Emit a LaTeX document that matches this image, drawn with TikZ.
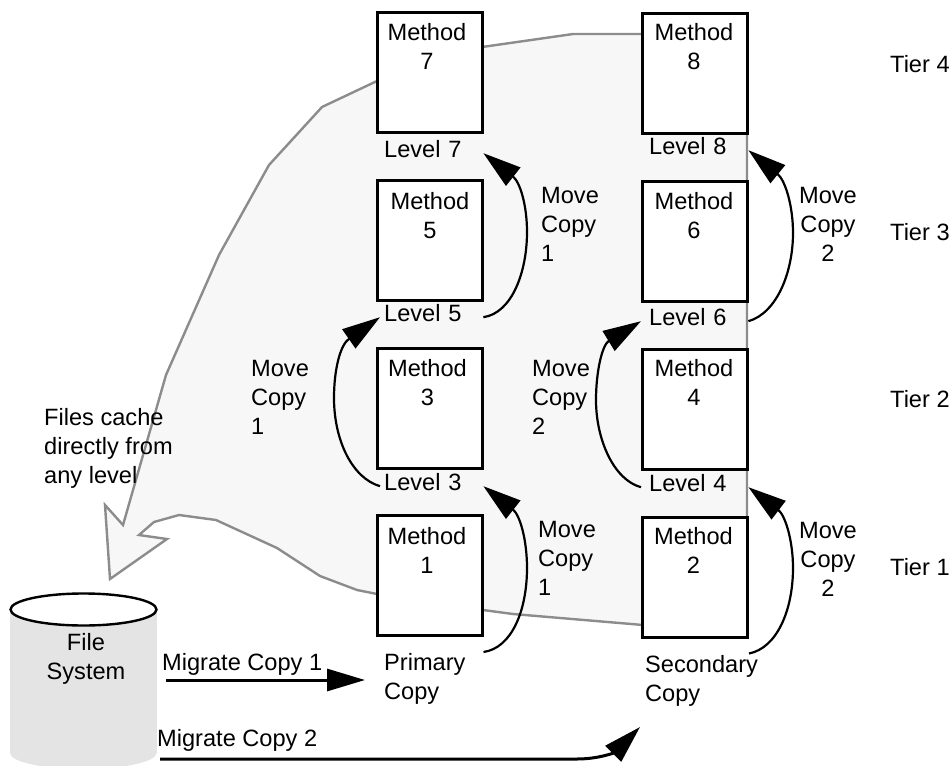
\documentclass[tikz,border=0pt]{standalone}
\usepackage{fontspec}
\setmainfont{Liberation Sans}
\usetikzlibrary{arrows.meta}
\definecolor{regionfill}{HTML}{F7F7F7}
\definecolor{regionline}{HTML}{8C8C8C}
\definecolor{filesysfill}{HTML}{E4E4E4}
\tikzset{
  methodbox/.style={draw,line width=3pt,fill=white,minimum width=105pt,minimum height=120pt,inner sep=0pt},
  boxtext/.style={anchor=north,align=center,inner sep=0pt},
  plaintext/.style={anchor=north west,align=left,inner sep=0pt},
  centertext/.style={anchor=north,align=center,inner sep=0pt},
  level/.style={anchor=north west,align=left,inner ysep=0pt,inner xsep=4pt,text width=95pt,text height=17pt,text depth=9pt},
  levelb/.style={level,inner xsep=8pt,text width=91pt},
  movearrow/.style={line width=2.2pt,-{Triangle[length=38pt,width=23pt]}},
  migratearrow/.style={line width=3pt,-{Triangle[length=38pt,width=22pt]}}
}
\begin{document}
\begin{tikzpicture}[x=1pt,y=-1pt,every node/.style={font=\fontsize{23.6}{29}\selectfont}]
      \useasboundingbox (0,0) rectangle (951,766);
      \draw[line width=2.4pt,draw=regionline,fill=regionfill]
        (747,34) -- (573,34) -- (482,47) -- (377,81) -- (322,107) -- (269,165)
        -- (219,255) -- (166,375) -- (123,525) -- (105,505) -- (110,579)
        -- (167,539) -- (139,535) -- (154,522) -- (179,515) -- (216,520)
        -- (277,548) -- (320,576) -- (357,590) -- (377,594) -- (483,610)
        -- (513,614) -- (643,625) -- (747,625) -- cycle;
      \fill[filesysfill] (10,609) rectangle (156.5,753);
      \fill[filesysfill] (83.25,753) ellipse [x radius=73.25,y radius=16];
      \draw[line width=2.4pt,fill=white] (83.5,609.5) ellipse [x radius=73,y radius=16];
      \node[methodbox] (m1) at (429.5,575.5) {};
      \node[methodbox] (m2) at (695,577) {};
      \node[methodbox] (m3) at (429.5,408) {};
      \node[methodbox] (m4) at (695,409.5) {};
      \node[methodbox] (m5) at (429.5,240) {};
      \node[methodbox] (m6) at (695,241) {};
      \node[methodbox] (m7) at (429.5,72) {};
      \node[methodbox] (m8) at (695,73.5) {};
      \node[boxtext] (t1) at (427,527) {Method\\1};
      \node[boxtext] (t2) at (693.5,527) {Method\\2};
      \node[boxtext] (t3) at (427.5,359) {Method\\3};
      \node[boxtext] (t4) at (694,359) {Method\\4};
      \node[boxtext] (t5) at (430,192) {Method\\5};
      \node[boxtext] (t6) at (694,192) {Method\\6};
      \node[boxtext] (t7) at (427,23) {Method\\7};
      \node[boxtext] (t8) at (694,23) {Method\\8};
      \node[level] (lev3) at (380,473) {Level 3};
      \node[levelb] (lev4) at (641,474) {Level 4};
      \node[level] (lev5) at (380,304) {Level 5};
      \node[levelb] (lev6) at (641,308) {Level 6};
      \node[level] (lev7) at (380,140) {Level 7};
      \node[levelb] (lev8) at (641,137) {Level 8};
      \node[plaintext] (prim) at (384,653) {Primary\\Copy};
      \node[plaintext] (sec) at (645,655) {Secondary\\Copy};
      \node[plaintext] (mc1) at (251,360) {Move\\Copy\\1};
      \node[plaintext] (mc2) at (532,360) {Move\\Copy\\2};
      \node[plaintext] (mc3) at (541,187) {Move\\Copy\\1};
      \node[plaintext] (mc4) at (538,521) {Move\\Copy\\1};
      \node[centertext] (mc5) at (828,187) {Move\\Copy\\2};
      \node[centertext] (mc6) at (828,522) {Move\\Copy\\2};
      \node[plaintext] (tier4) at (890,55) {Tier 4};
      \node[plaintext] (tier3) at (890,223) {Tier 3};
      \node[plaintext] (tier2) at (890,390) {Tier 2};
      \node[plaintext] (tier1) at (890,558) {Tier 1};
      \node[plaintext] (cache) at (44,408) {Files cache\\directly from\\any level};
      \node[centertext] (fs) at (86,633) {File\\System};
      \node[plaintext] (mig1) at (162,653) {Migrate Copy 1};
      \node[plaintext] (mig2) at (157,729) {Migrate Copy 2};
      \coordinate (mig1a) at (166,680);
      \coordinate (mig1b) at (365,680);
      \coordinate (mig2a) at (160,759);
      \coordinate (mig2b) at (640,727);
      \begin{scope}[movearrow]
        \draw ([yshift=-15pt]m1.south east) .. controls (512,648) and (527,610) .. (527,568) .. controls (527,540) and (520,515) .. (lev3.east);
        \draw (lev3.west) .. controls (352,478) and (334,440) .. (334,398) .. controls (334,370) and (340,345) .. (lev5.west);
        \draw (lev5.east) .. controls (512,313) and (527,272) .. (527,232) .. controls (527,205) and (520,182) .. (lev7.east);
        \draw ([yshift=-15pt]m2.south east) .. controls (777,648) and (793,610) .. (793,568) .. controls (793,540) and (785,515) .. (lev4.east);
        \draw (lev4.west) .. controls (614,480) and (596,440) .. (596,400) .. controls (596,372) and (602,345) .. (lev6.west);
        \draw (lev6.east) .. controls (777,313) and (793,272) .. (793,233) .. controls (793,205) and (785,180) .. (lev8.east);
      \end{scope}
      \begin{scope}[migratearrow]
        \draw (mig1a) -- (mig1b);
        \draw (mig2a) -- (577,759) .. controls (600,759) and (615,752) .. (mig2b);
      \end{scope}
    \end{tikzpicture}
\end{document}
